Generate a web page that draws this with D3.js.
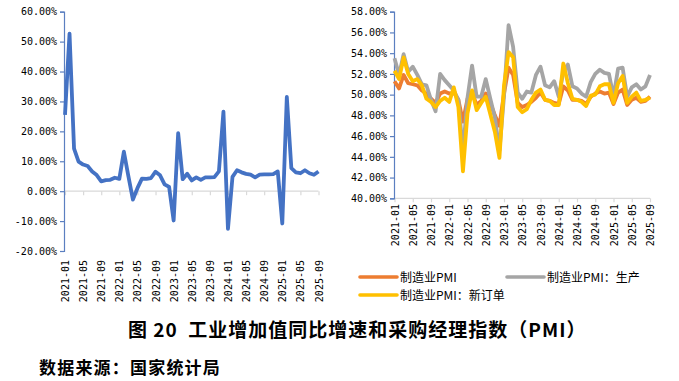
<!DOCTYPE html>
<html><head><meta charset="utf-8">
<script src="https://cdn.jsdelivr.net/npm/d3@7"></script>
<style>
html,body{margin:0;padding:0;background:#fff;}
svg{display:block;}
</style></head>
<body>
<svg id="c" width="679" height="381"></svg>
<script>
// ---------- DATA ----------
const categories = [
 "2021-01","2021-02","2021-03","2021-04","2021-05","2021-06","2021-07","2021-08","2021-09","2021-10","2021-11","2021-12",
 "2022-01","2022-02","2022-03","2022-04","2022-05","2022-06","2022-07","2022-08","2022-09","2022-10","2022-11","2022-12",
 "2023-01","2023-02","2023-03","2023-04","2023-05","2023-06","2023-07","2023-08","2023-09","2023-10","2023-11","2023-12",
 "2024-01","2024-02","2024-03","2024-04","2024-05","2024-06","2024-07","2024-08","2024-09","2024-10","2024-11","2024-12",
 "2025-01","2025-02","2025-03","2025-04","2025-05","2025-06","2025-07","2025-08","2025-09"];
const tickLabels = ["2021-01","2021-05","2021-09","2022-01","2022-05","2022-09","2023-01","2023-05","2023-09",
 "2024-01","2024-05","2024-09","2025-01","2025-05","2025-09"];

// left: industrial value added YoY (%)
const ivaGrowth = [
 25.5,52.7,14.2,9.9,8.9,8.4,6.6,5.4,3.3,3.7,3.8,4.5,
 4.1,13.2,5.0,-2.8,1.0,4.2,4.1,4.4,6.5,5.3,2.3,1.4,
 -9.8,19.4,4.0,5.8,3.6,4.6,3.8,4.6,4.6,4.7,6.6,26.6,
 -12.6,4.8,7.0,6.3,5.8,5.5,4.6,5.5,5.6,5.6,5.7,6.6,
 -10.8,31.5,7.7,6.3,6.0,7.0,6.0,5.5,6.6];

// right: PMI series (%)
const pmi = [
 51.3,50.6,51.9,51.1,51.0,50.9,50.4,50.1,49.6,49.2,50.1,50.3,
 50.1,50.2,49.5,47.4,49.6,50.2,49.0,49.4,50.1,49.2,48.0,47.0,
 50.1,52.6,51.9,49.2,48.8,49.0,49.3,49.7,50.2,49.5,49.4,
 49.2,49.1,50.8,50.4,49.5,49.5,49.4,49.1,49.8,50.1,50.3,50.1,50.2,
 49.1,50.2,50.5,49.0,49.5,49.7,49.3,49.4,49.8];
const pmiProduction = [
 53.5,51.9,53.9,52.2,52.7,51.9,51.0,50.9,49.5,48.4,52.0,51.4,
 50.9,50.4,49.5,44.4,49.7,52.8,49.8,49.8,51.5,49.6,47.8,44.6,
 49.8,56.7,54.6,50.2,49.6,50.3,50.2,51.9,52.7,50.9,50.7,
 51.3,49.8,52.2,52.9,50.8,50.6,50.1,49.8,51.2,52.0,52.4,52.1,52.0,
 49.8,52.5,52.6,49.8,50.7,51.0,50.5,50.8,51.9];
const pmiNewOrders = [
 52.3,51.5,53.6,52.0,51.3,51.5,50.9,49.6,49.3,48.8,49.4,49.7,
 49.3,50.7,48.8,42.6,48.2,50.4,48.5,49.2,49.8,48.1,46.4,43.9,
 50.9,54.1,53.6,48.8,48.3,48.6,49.5,50.2,50.5,49.5,49.4,
 49.0,49.0,53.0,51.1,49.6,49.5,49.3,48.9,49.9,50.0,50.8,51.0,51.0,
 49.2,51.1,51.8,49.2,49.8,50.2,49.4,49.5,49.7];

const leftTicks = [-20,-10,0,10,20,30,40,50,60];
const rightTicks = [40,42,44,46,48,50,52,54,56,58];
const seriesNames = ["制造业PMI","制造业PMI：生产","制造业PMI：新订单"];
const titleText = "图 20  工业增加值同比增速和采购经理指数（PMI）";
const sourceText = "数据来源：国家统计局";

// ---------- DRAW ----------
const svg = d3.select("#c");
const monoFont = "'DejaVu Sans Mono', monospace";
const cjkFont = "'Noto Sans CJK SC', sans-serif";
const axisBlue = "#5B7FC0";
const gridGray = "#D9D9D9";
const fmt = d => d.toFixed(2) + "%";

function drawPanel(opts){
  const {x, y, series, xAxisAt, labelTop, axisX} = opts;
  const g = svg.append("g");
  const xa = g.append("g").attr("transform", `translate(0,${y(xAxisAt)})`)
    .call(d3.axisBottom(x).tickValues(tickLabels).tickSize(4).tickFormat(""));
  xa.select(".domain").attr("stroke", gridGray).attr("stroke-width",1.2)
    .attr("d", `M${axisX},0H${x(categories[categories.length-1])}`);
  xa.selectAll(".tick line").attr("stroke", gridGray).attr("stroke-width",1.2);
  g.append("g").selectAll("text").data(tickLabels).join("text")
    .attr("transform", d => `translate(${x(d)+0.5},${labelTop}) rotate(-90)`)
    .attr("text-anchor","end").attr("dominant-baseline","central")
    .style("font-family", monoFont).style("font-size","10px").attr("fill","#000")
    .text(d => d);
  const ya = g.append("g").attr("transform", `translate(${axisX},0)`)
    .call(d3.axisLeft(y).tickValues(opts.ticks).tickSize(4).tickPadding(3).tickFormat(fmt));
  ya.select(".domain").attr("stroke", axisBlue).attr("stroke-width",1.2);
  ya.selectAll(".tick line").attr("stroke", axisBlue).attr("stroke-width",1.2);
  ya.selectAll(".tick text").style("font-family", monoFont).style("font-size","10px").attr("fill","#000");
  series.forEach(s => {
    g.append("path").datum(s.values)
      .attr("fill","none").attr("stroke", s.color).attr("stroke-width", 3.8)
      .attr("stroke-linejoin","round").attr("stroke-linecap","butt")
      .attr("d", d3.line().x((d,i) => x(categories[i])).y(d => y(d)));
  });
}

const xL = d3.scalePoint().domain(categories).range([65, 318.5]);
const yL = d3.scaleLinear().domain([-20,60]).range([251,11.7]);
drawPanel({x:xL, y:yL, ticks:leftTicks, xAxisAt:0, labelTop:260, axisX:64,
  series:[{values:ivaGrowth, color:"#4472C4"}]});

const xR = d3.scalePoint().domain(categories).range([394.5, 650]);
const yR = d3.scaleLinear().domain([40,58]).range([198.3,11.7]);
const colors = ["#ED7D31","#A5A5A5","#FFC000"];
drawPanel({x:xR, y:yR, ticks:rightTicks, xAxisAt:40, labelTop:204, axisX:394,
  series:[{values:pmi, color:colors[0]},{values:pmiProduction, color:colors[1]},{values:pmiNewOrders, color:colors[2]}]});

const legendPos = [[360,277],[507,277],[360,295]];
seriesNames.forEach((name,i) => {
  const [lx,ly] = legendPos[i];
  svg.append("line").attr("x1",lx).attr("x2",lx+37).attr("y1",ly).attr("y2",ly)
    .attr("stroke",colors[i]).attr("stroke-width",3.6).attr("stroke-linecap","round");
  svg.append("text").attr("x",lx+40).attr("y",ly+4.5)
    .style("font-family",cjkFont).style("font-size","12px").attr("fill","#000").text(name);
});

svg.append("text").attr("x",128).attr("y",337)
  .style("font-family",cjkFont).style("font-size","19px").style("font-weight","bold")
  .style("white-space","pre").style("letter-spacing","1px")
  .attr("fill","#000").text(titleText);
svg.append("text").attr("x",39).attr("y",374)
  .style("font-family",cjkFont).style("font-size","17px").style("font-weight","bold")
  .style("letter-spacing","1.2px")
  .attr("fill","#000").text(sourceText);
</script>
</body></html>
